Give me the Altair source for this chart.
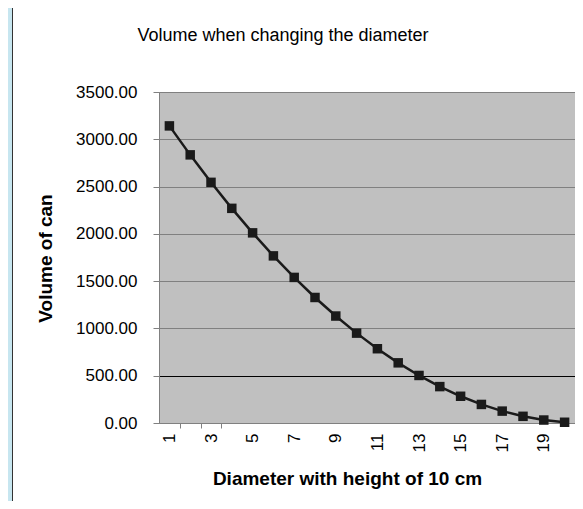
import altair as alt
import pandas as pd

# ---- data ----
diameter = [1, 2, 3, 4, 5, 6, 7, 8, 9, 10, 11, 12, 13, 14, 15, 16, 17, 18, 19, 20]
volume = [3141.6, 2835.3, 2544.7, 2269.8, 2010.6, 1767.1, 1539.4, 1327.3, 1131.0, 950.3,
          785.4, 636.2, 502.7, 384.8, 282.7, 196.3, 125.7, 70.7, 31.4, 7.9]
y_ticks = [0, 500, 1000, 1500, 2000, 2500, 3000, 3500]

df = pd.DataFrame({"Diameter": diameter, "Volume": volume})

FONT = "Liberation Sans"
W, H = 416, 331
PAD_L, PAD_T, PAD_B = 151, 84, 78

x_enc = alt.X(
    "Diameter:O",
    scale=alt.Scale(type="band", paddingInner=0, paddingOuter=0),
    axis=alt.Axis(
        title="Diameter with height of 10 cm",
        labelAngle=270,
        labelExpr="datum.value % 2 == 1 ? datum.label : ''",
        labelFont=FONT, labelFontSize=17, labelColor="black",
        labelPadding=5,
        tickBand="extent",
        tickSize=5,
        tickColor=alt.condition("datum.value <= 3", alt.value("#808080"), alt.value("transparent")),
        domainColor="#808080",
        titleFont=FONT, titleFontSize=19, titleFontWeight="bold", titleColor="black",
        titleX=188, titleY=55, titleAlign="center", titleBaseline="middle",
        grid=False,
    ),
)

y_enc = alt.Y(
    "Volume:Q",
    scale=alt.Scale(domain=[0, 3500], nice=False, zero=True),
    axis=alt.Axis(
        title="Volume of can",
        values=y_ticks,
        format=".2f",
        labelFont=FONT, labelFontSize=17, labelColor="black",
        labelPadding=16,
        tickSize=6, tickColor="#808080",
        domainColor="#808080",
        grid=True,
        gridColor=alt.condition("datum.value == 500", alt.value("black"), alt.value("#808080")),
        gridWidth=1,
        titleFont=FONT, titleFontSize=19, titleFontWeight="bold", titleColor="black",
        titleAngle=270, titleX=-114, titleY=166, titleAlign="center", titleBaseline="middle",
    ),
)

base = alt.Chart(df).encode(x=x_enc, y=y_enc)
line = base.mark_line(color="#1a1a1a", strokeWidth=2.5)
points = base.mark_square(color="#1a1a1a", size=90, opacity=1, filled=True)

deco = pd.DataFrame({"k": [0]})
blue_strip = alt.Chart(deco).mark_rect(clip=False, color="#c7e6f0").encode(
    x=alt.value(-PAD_L), x2=alt.value(-PAD_L + 4),
    y=alt.value(-PAD_T), y2=alt.value(H + PAD_B),
)
left_border = alt.Chart(deco).mark_rule(clip=False, color="#333333", strokeWidth=1).encode(
    x=alt.value(-PAD_L + 4.5),
    y=alt.value(-PAD_T), y2=alt.value(H + PAD_B),
)

chart = (
    alt.layer(blue_strip, left_border, line, points)
    .properties(
        width=W, height=H,
        padding={"left": PAD_L, "top": PAD_T, "right": 0, "bottom": PAD_B},
        autosize=alt.AutoSizeParams(type="none"),
        title=alt.TitleParams(
            "Volume when changing the diameter",
            font=FONT, fontSize=18, fontWeight="normal", color="black",
            anchor="middle", baseline="alphabetic", offset=-51, dx=-84,
        ),
        background="white",
    )
    .configure_view(fill="#c0c0c0", stroke="#808080", strokeWidth=1)
)

chart.save("out.html", embed_options={"renderer": "svg", "actions": False})
